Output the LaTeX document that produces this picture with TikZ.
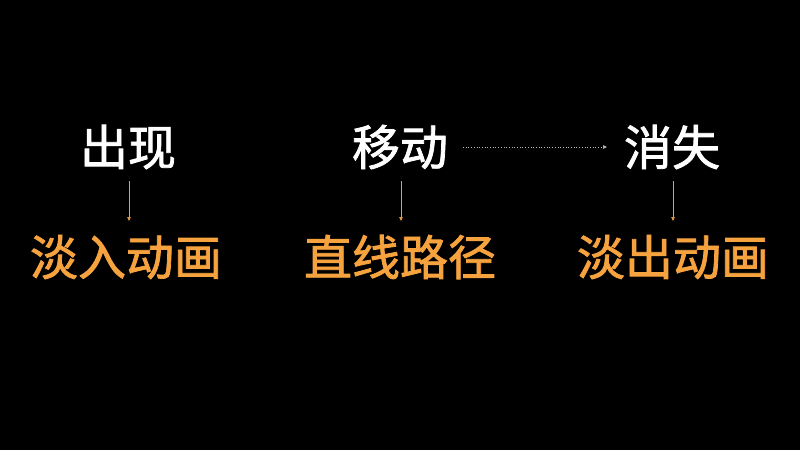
\documentclass[tikz,border=0pt]{standalone}
\usepackage{fontspec}
\newfontfamily\cjk{Noto Sans CJK SC}[FakeBold=1.6]
\usetikzlibrary{arrows.meta}
\definecolor{warm}{HTML}{F6A23E}
\definecolor{line}{HTML}{B8B8B8}
\begin{document}
\begin{tikzpicture}[x=1pt,y=-1pt,
  every node/.style={inner sep=0pt,font=\cjk\fontsize{48}{48}\selectfont},
  top/.style={text=white},
  bot/.style={text=warm},
  vert/.style={draw=warm!85!gray,line width=0.6pt,-{Triangle[length=4pt,width=3.5pt]}},
  horiz/.style={draw=line,dotted,line width=0.7pt,-{Triangle[length=4pt,width=3.5pt,fill=line]}}]
\fill[black] (0,0) rectangle (800,450);
\useasboundingbox (0,0) rectangle (800,450);
\node[top] (a) at (128,147) {出现};
\node[top] (b) at (400,147) {移动};
\node[top] (c) at (672,147) {消失};
\node[bot] (d) at (126,257) {淡入动画};
\node[bot] (e) at (400,257) {直线路径};
\node[bot] (f) at (673,257) {淡出动画};
\draw[vert] ([xshift=1,yshift=-34]a.center) -- ([xshift=3,yshift=36]d.center);
\draw[vert] ([xshift=1,yshift=-34]b.center) -- ([xshift=1,yshift=36]e.center);
\draw[vert] ([xshift=1,yshift=-34]c.center) -- ([yshift=36]f.center);
\draw[horiz] ([xshift=63]b.center) -- ([xshift=-65]c.center);
\end{tikzpicture}
\end{document}
